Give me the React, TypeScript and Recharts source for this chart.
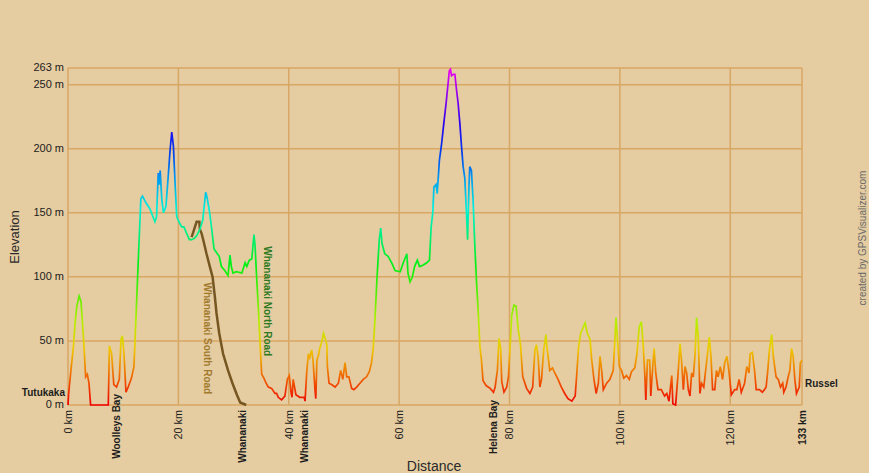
import React from 'react'
import { LineChart, Line, XAxis, YAxis, CartesianGrid, ReferenceLine } from 'recharts'

const W = 869
const H = 473
// plot box in page pixels
const PLOT = { left: 68, top: 68, right: 802, bottom: 405 }
const KM_MAX = 133
const M_MAX = 263

const BG = '#e5cca1'
const GRID = '#d8a764'
const INK = '#1c1c1c'

// main track (km, metres)
const TRACK_KM = [
  0, 0.1, 0.3, 0.6, 0.97, 1.3, 1.6, 2.0, 2.35, 2.8, 3.2, 3.5, 3.8, 4.1, 5.5, 7.3, 7.5, 7.9, 8.3, 8.8,
  9.3, 9.6, 9.85, 10.15, 10.5, 10.9, 11.5, 11.95, 12.4, 12.86, 13.2, 13.5, 14.1, 14.85, 15.3, 15.75, 16.05, 16.35, 16.55, 16.7,
  17.0, 17.3, 17.75, 18.2, 18.5, 18.8, 19.1, 19.4, 19.7, 20.1, 20.6, 21.0, 21.5, 22.0, 22.4, 22.9, 23.3, 23.9, 24.4, 24.95,
  25.2, 25.6, 26.0, 26.45, 26.9, 27.4, 27.8, 28.4, 29.0, 29.35, 29.6, 29.9, 30.5, 31.5, 32.1, 32.4, 32.85, 33.3, 33.7, 33.9,
  34.2, 34.5, 34.8, 35.1, 35.5, 35.9, 36.3, 36.9, 37.5, 37.8, 38.1, 38.7, 39.3, 39.75, 40.1, 40.4, 40.6, 40.8, 41.3, 42.0,
  42.8, 42.95, 43.25, 43.55, 43.8, 44.15, 44.4, 44.75, 44.9, 45.1, 45.4, 45.6, 45.97, 46.3, 46.6, 46.9, 47.0, 47.3, 47.75, 48.4,
  49.0, 49.4, 49.8, 50.2, 50.5, 50.9, 51.4, 51.8, 52.3, 52.9, 53.5, 54.1, 54.6, 55.0, 55.3, 55.6, 56.0, 56.4, 56.66, 56.9,
  57.4, 58.0, 58.65, 59.25, 60.2, 60.75, 61.4, 61.6, 61.97, 62.4, 62.8, 63.3, 63.7, 64.3, 65.0, 65.5, 65.8, 66.1, 66.3, 66.7,
  66.9, 67.3, 67.7, 68.1, 68.5, 68.8, 69.1, 69.3, 69.5, 69.8, 70.1, 70.4, 70.7, 71.0, 71.3, 71.6, 71.9, 72.2, 72.4, 72.65,
  72.8, 73.1, 73.4, 73.7, 74.0, 74.3, 74.65, 74.9, 75.2, 75.8, 76.5, 77.1, 77.4, 77.8, 78.1, 78.4, 78.6, 79.0, 79.5, 79.8,
  80.1, 80.4, 80.8, 81.2, 81.6, 82.0, 82.4, 83.1, 83.7, 84.2, 84.6, 84.9, 85.2, 85.5, 85.8, 86.2, 86.6, 86.8, 87.3, 87.8,
  88.2, 88.8, 89.4, 90.0, 90.6, 91.3, 91.9, 92.2, 92.5, 92.9, 93.3, 93.7, 94.1, 94.6, 94.9, 95.3, 95.7, 96.1, 96.4, 96.7,
  97.0, 97.6, 98.2, 98.8, 99.3, 99.5, 99.9, 100.3, 100.7, 101.2, 101.7, 102.1, 102.7, 103.1, 103.5, 103.9, 104.2, 104.5, 104.7, 105.0,
  105.4, 105.6, 106.0, 106.2, 106.5, 106.9, 107.5, 108.1, 108.5, 108.9, 109.4, 109.6, 110.1, 110.5, 110.9, 111.2, 111.5, 111.8, 112.1, 112.4,
  112.7, 113.0, 113.3, 113.6, 113.9, 114.2, 114.5, 114.8, 115.2, 115.7, 116.2, 116.5, 116.8, 117.2, 117.5, 117.8, 118.2, 118.6, 119.0, 119.4,
  119.8, 120.2, 120.8, 121.2, 121.6, 122.0, 122.6, 123.0, 123.4, 123.6, 124.0, 124.4, 124.7, 125.3, 125.8, 126.2, 126.5, 126.8, 127.1, 127.5,
  127.8, 128.3, 128.7, 129.1, 129.5, 129.7, 130.1, 130.5, 130.8, 131.1, 131.4, 131.7, 132.0, 132.5, 132.7, 133.0,
]
const TRACK_M = [
  0, 8, 17, 30, 45, 65, 77, 85, 81, 53, 22, 24, 17, 0, 0, 0, 46, 40, 16, 14,
  20, 51, 54, 40, 10, 14, 21, 30, 77, 126, 161, 163, 158, 153, 148, 143, 147, 181, 172, 183,
  160, 150, 155, 181, 199, 213, 202, 173, 147, 143, 139, 139, 134, 129, 129, 130, 132, 137, 144, 166,
  162, 152, 139, 122, 119, 116, 108, 105, 101, 117, 108, 103, 104, 103, 111, 108, 113, 114, 133, 124,
  98, 75, 48, 24, 21, 17, 14, 13, 9, 9, 6, 4, 7, 20, 23, 10, 6, 20, 8, 6,
  6, 3, 25, 40, 37, 43, 35, 12, 5, 35, 39, 44, 49, 56, 52, 47, 30, 17, 16, 14,
  17, 27, 20, 33, 22, 22, 13, 12, 14, 17, 20, 22, 26, 33, 44, 65, 100, 129, 138, 126,
  118, 116, 111, 105, 104, 111, 118, 103, 96, 100, 108, 113, 108, 109, 111, 113, 139, 150, 170, 172,
  165, 191, 204, 220, 235, 248, 261, 262, 257, 258, 258, 246, 235, 220, 202, 186, 177, 150, 129, 170,
  186, 183, 160, 126, 98, 75, 45, 36, 19, 15, 13, 10, 14, 27, 52, 44, 18, 10, 14, 22,
  45, 70, 78, 77, 58, 47, 22, 13, 9, 14, 43, 47, 37, 14, 20, 43, 55, 45, 27, 29,
  25, 20, 14, 9, 5, 3, 7, 25, 45, 56, 60, 64, 56, 51, 35, 20, 9, 17, 38, 27,
  12, 17, 20, 27, 68, 56, 30, 27, 21, 23, 20, 26, 29, 40, 61, 65, 48, 25, 4, 35,
  35, 7, 33, 44, 25, 12, 12, 7, 9, 3, 23, 1, 0, 22, 48, 33, 12, 30, 25, 12,
  7, 25, 22, 38, 68, 53, 9, 17, 14, 33, 53, 38, 12, 12, 27, 22, 30, 20, 33, 38,
  25, 8, 12, 12, 20, 10, 17, 30, 25, 40, 41, 27, 12, 12, 10, 12, 14, 27, 43, 55,
  38, 22, 20, 14, 17, 10, 14, 22, 27, 44, 38, 20, 9, 14, 33, 35,
]

// Whananaki South Road branch
const SOUTH_KM = [22.4, 22.7, 23.0, 23.3, 23.8, 23.9, 24.2, 24.5, 25.1, 25.7, 26.2, 26.6, 26.9, 27.4, 28.1, 29.0, 29.8, 30.6, 31.2, 32.3]
const SOUTH_M = [131, 135, 139, 143, 143, 137, 134, 129, 118, 108, 100, 85, 72, 56, 40, 27, 17, 8, 2, 0]

const DIST_TICKS = [0, 20, 40, 60, 80, 100, 120, 133]
const ELEV_TICKS = [0, 50, 100, 150, 200, 250, 263]
const PLACE_KM = [8.82, 31.65, 42.76, 77.06]
const PLACE_NAMES = ['Woolleys Bay', 'Whananaki', 'Whananaki', 'Helena Bay']
// how far each waypoint label reaches up into the plot (px)
const PLACE_LIFT = [16, 0, 0, 10]

const track = TRACK_KM.map((km, i) => ({ km, m: TRACK_M[i] }))
const south = SOUTH_KM.map((km, i) => ({ km, m: SOUTH_M[i] }))
const xTicks = [...DIST_TICKS, ...PLACE_KM].sort((a, b) => a - b)

const xOf = (km: number) => PLOT.left + (km / KM_MAX) * (PLOT.right - PLOT.left)
const yOf = (m: number) => PLOT.bottom - (m / M_MAX) * (PLOT.bottom - PLOT.top)

// hue runs red (0 m) -> magenta (263 m); gradient goes top -> bottom so stops ascend from the top
const STOPS = Array.from({ length: 13 }, (_, i) => {
  const f = i / 12 // 0 at the top
  return { offset: f, color: `hsl(${Math.round((1 - f) * 300)}, 100%, 47%)` }
})

const FONT = 'Arial, "Liberation Sans", sans-serif'

function DistTick(props: any) {
  const { x, payload } = props
  const v = payload.value
  const pi = PLACE_KM.indexOf(v)
  const isPlace = pi >= 0
  const label = isPlace ? PLACE_NAMES[pi] : `${v} km`
  const top = PLOT.bottom + 5 - (isPlace ? PLACE_LIFT[pi] : 0)
  return (
    <text
      x={x}
      y={top}
      dy="0.36em"
      transform={`rotate(-90, ${x}, ${top})`}
      textAnchor="end"
      fontFamily={FONT}
      fontSize={isPlace ? 10 : v === KM_MAX ? 10.3 : 10.8}
      fontWeight={isPlace || v === KM_MAX ? 'bold' : 'normal'}
      fill={INK}
    >
      {label}
    </text>
  )
}

function ElevTick(props: any) {
  const { y, payload } = props
  return (
    <text x={PLOT.left - 4} y={y - 1} dy="0.35em" textAnchor="end" fontFamily={FONT} fontSize={11} fill={INK}>
      {payload.value} m
    </text>
  )
}

export default function App() {
  return (
    <div style={{ position: 'absolute', left: 0, top: 0, width: W, height: H, background: BG }}>
      <LineChart
        width={W}
        height={H}
        data={track}
        margin={{ top: PLOT.top, right: W - PLOT.right, bottom: 8, left: 8 }}
      >
        <defs>
          <linearGradient id="elevStroke" gradientUnits="userSpaceOnUse" x1={0} y1={PLOT.top} x2={0} y2={PLOT.bottom}>
            {STOPS.map((s, i) => (
              <stop key={i} offset={s.offset} stopColor={s.color} />
            ))}
          </linearGradient>
        </defs>

        <CartesianGrid vertical={false} stroke={GRID} strokeWidth={1.5} />
        {DIST_TICKS.map(k => (
          <ReferenceLine key={k} x={k} stroke={GRID} strokeWidth={1.5} />
        ))}

        <XAxis
          dataKey="km"
          type="number"
          domain={[0, KM_MAX]}
          ticks={xTicks}
          interval={0}
          tick={<DistTick />}
          axisLine={false}
          tickLine={false}
          height={H - 8 - PLOT.bottom}
        />
        <YAxis
          type="number"
          domain={[0, M_MAX]}
          ticks={ELEV_TICKS}
          interval={0}
          tick={<ElevTick />}
          axisLine={false}
          tickLine={false}
          width={PLOT.left - 8}
        />

        <Line
          data={south}
          dataKey="m"
          type="linear"
          stroke="#765722"
          strokeWidth={2.5}
          dot={false}
          activeDot={false}
          isAnimationActive={false}
        />
        <Line
          dataKey="m"
          type="linear"
          stroke="url(#elevStroke)"
          strokeWidth={1.7}
          dot={false}
          activeDot={false}
          isAnimationActive={false}
        />
      </LineChart>

      <svg width={W} height={H} style={{ position: 'absolute', left: 0, top: 0, pointerEvents: 'none' }}>
        <text x={14} y={237} dy="0.35em" transform="rotate(-90, 14, 237)" textAnchor="middle" fontFamily={FONT} fontSize={13} fill="#2a2a2a">
          Elevation
        </text>
        <text x={434} y={466} dy="0.35em" textAnchor="middle" fontFamily={FONT} fontSize={14} fill="#2a2a2a">
          Distance
        </text>
        <text x={862} y={238} dy="0.35em" transform="rotate(-90, 862, 238)" textAnchor="middle" fontFamily={FONT} fontSize={10} fill="#6a6a6a">
          created by GPSVisualizer.com
        </text>
        <text x={PLOT.left - 3} y={yOf(10)} dy="0.35em" textAnchor="end" fontFamily={FONT} fontSize={10} fontWeight="bold" fill={INK}>
          Tutukaka
        </text>
        <text x={PLOT.right + 3} y={yOf(17)} dy="0.35em" textAnchor="start" fontFamily={FONT} fontSize={10} fontWeight="bold" fill={INK}>
          Russel
        </text>
        <text
          x={xOf(25.3)}
          y={yOf(52)}
          dy="0.35em"
          transform={`rotate(90, ${xOf(25.3)}, ${yOf(52)})`}
          textAnchor="middle"
          fontFamily={FONT}
          fontSize={10}
          fontWeight="bold"
          fill="#a27a2c"
        >
          Whananaki South Road
        </text>
        <text
          x={xOf(36.2)}
          y={yOf(81)}
          dy="0.35em"
          transform={`rotate(90, ${xOf(36.2)}, ${yOf(81)})`}
          textAnchor="middle"
          fontFamily={FONT}
          fontSize={10}
          fontWeight="bold"
          fill="#2e7a1e"
        >
          Whananaki North Road
        </text>
      </svg>
    </div>
  )
}
